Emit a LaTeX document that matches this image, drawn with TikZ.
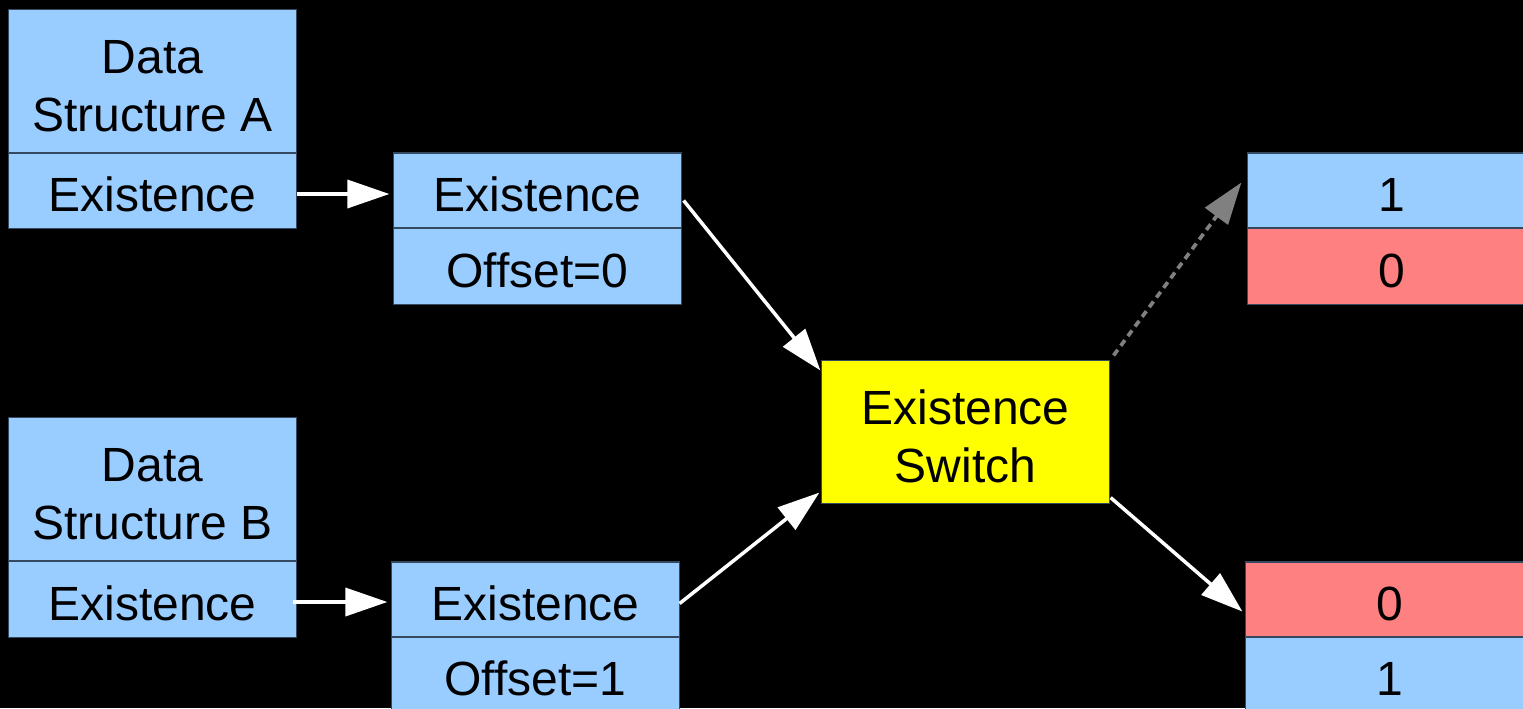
\documentclass[tikz,border=0pt]{standalone}
\usepackage{fontspec}
\setmainfont{Liberation Sans}
\usetikzlibrary{arrows.meta,calc}
\definecolor{cellblue}{HTML}{99CCFF}
\definecolor{cellred}{HTML}{FF8080}
\definecolor{cellyellow}{HTML}{FFFF00}
\definecolor{edgec}{RGB}{52,72,96}
\definecolor{dashgray}{HTML}{808080}
\newcommand{\cellfont}{\fontsize{13.65pt}{16.5pt}\selectfont}
\tikzset{
  cell/.style={draw=edgec, line width=0.3pt, minimum width=2.87cm, inner sep=0pt,
    text height=0.42cm, text depth=0pt, font=\cellfont, text=black, align=center},
  bluecell/.style={cell, fill=cellblue},
  redcell/.style={cell, fill=cellred},
  tallcell/.style={text height=1.0cm},
  arr/.style={draw=white, line width=1pt, -{Triangle[length=0.42cm,width=0.28cm]}},
  darr/.style={draw=dashgray, line width=1.05pt, dash pattern=on 0.07cm off 0.05cm,
    -{Triangle[length=0.42cm,width=0.28cm]}}
}
\begin{document}
\begin{tikzpicture}[x=0.01cm,y=-0.01cm]
\useasboundingbox (0,0) rectangle (1523,708);
\clip (0,0) rectangle (1523,708);
\fill[black] (0,0) rectangle (1523,708);

% Data structure A
\node[bluecell, tallcell, minimum height=1.43cm] (dsa) at (152.5,81.5) {Data\\Structure A};
\node[bluecell, minimum height=0.75cm] (aex) at (152.5,190.5) {Existence};
% middle A
\node[bluecell, minimum height=0.75cm] (mex) at (537.5,190.5) {Existence};
\node[bluecell, minimum height=0.76cm] (moff) at (537.5,266) {Offset=0};

% Data structure B
\node[bluecell, tallcell, minimum height=1.43cm] (dsb) at (152.5,489.5) {Data\\Structure B};
\node[bluecell, minimum height=0.76cm] (bex) at (152.5,599) {Existence};
% middle B
\node[bluecell, minimum height=0.75cm] (mbex) at (535.5,599.5) {Existence};
\node[bluecell, minimum height=0.75cm] (mboff) at (535.5,674.5) {Offset=1};

% switch
\node[cell, tallcell, fill=cellyellow, minimum height=1.42cm] (sw) at (965.5,432) {Existence\\Switch};

% right top
\node[bluecell, minimum height=0.75cm] (rt1) at (1391.5,190.5) {1};
\node[redcell, minimum height=0.76cm] (rt0) at (1391.5,266) {0};

% right bottom
\node[redcell, minimum height=0.75cm] (rb0) at (1389.5,599.5) {0};
\node[bluecell, minimum height=0.75cm] (rb1) at (1389.5,674.5) {1};

% connectors
\draw[arr] ($(aex.east)+(0,3.5)$) -- ($(mex.west)+(-4,3.5)$);
\draw[arr] ($(bex.east)+(-4,3)$) -- ($(mbex.west)+(-4,2.5)$);
\draw[arr] ($(mex.east)+(2,10)$) -- ($(sw.north west)+(-1,10)$);
\draw[arr] ($(mbex.east)+(0,4)$) -- ($(sw.south west)+(-2,-11)$);
\draw[arr] ($(sw.south east)+(1,-6)$) -- ($(rb0.west)+(-3,12)$);
\draw[darr] ($(sw.north east)+(4,-5)$) -- ($(rt1.west)+(-6,-8)$);
\end{tikzpicture}
\end{document}
